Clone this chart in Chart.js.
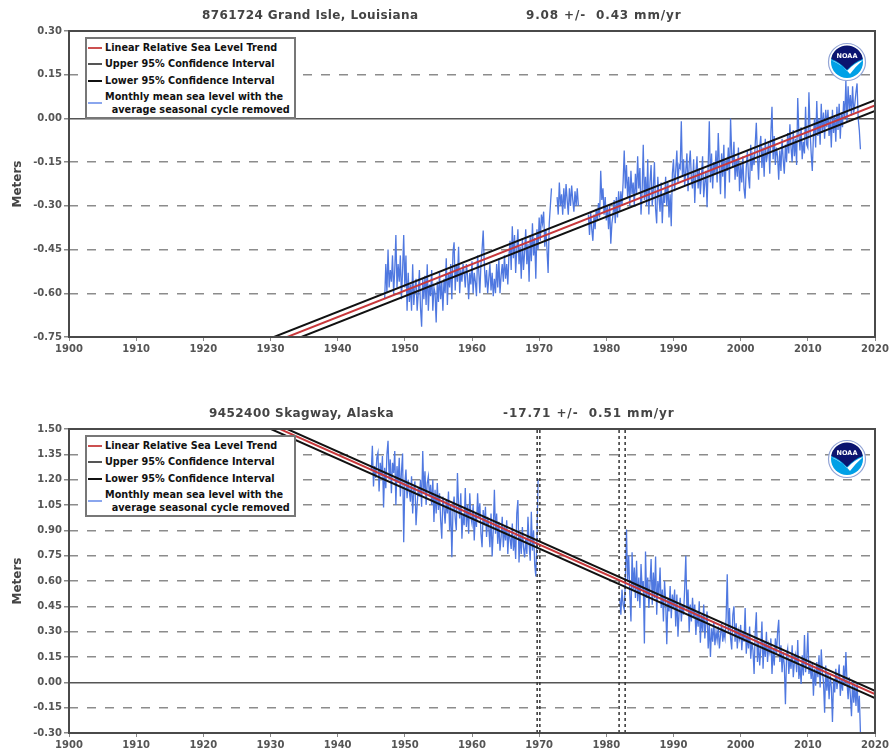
<!DOCTYPE html>
<html>
<head>
<meta charset="utf-8">
<title>Sea level trends</title>
<script src="https://cdn.jsdelivr.net/npm/chart.js@4"></script>
<style>
  html, body { margin: 0; padding: 0; background: #fff; }
  #page { position: relative; width: 889px; height: 755px; overflow: hidden; }
  canvas { position: absolute; left: 0; }
  .legend { position: absolute; left: 85px; width: 207px; height: 78px; border: 2px solid #777; background: #fff;
    font: bold 9.7px "DejaVu Sans", sans-serif; color: #111; }
  .legend div { position: absolute; left: 18px; white-space: pre; line-height: 13px; }
  .legend i { position: absolute; left: -17px; top: 6px; width: 14px; height: 2px; }
  .logo { position: absolute; left: 827px; width: 40px; height: 40px; }
</style>
</head>
<body>
<div id="page">
  <canvas id="chart-grand-isle" width="889" height="375" style="top:0"></canvas>
  <canvas id="chart-skagway" width="889" height="380" style="top:375px"></canvas>
</div>
<script>
// Axis ticks
const xTicks = [1900, 1910, 1920, 1930, 1940, 1950, 1960, 1970, 1980, 1990, 2000, 2010, 2020];
const yTicksGrandIsle = [-0.75, -0.60, -0.45, -0.30, -0.15, 0, 0.15, 0.30];
const yTicksSkagway = [-0.30, -0.15, 0, 0.15, 0.30, 0.45, 0.60, 0.75, 0.90, 1.05, 1.20, 1.35, 1.50];

// Trend end points at 1900 and 2020
const trendYears = [1900, 2020];
const grandIsleTrend = [-1.045, 0.045];
const grandIsleUpper = [-1.027, 0.063];
const grandIsleLower = [-1.064, 0.026];
const skagwayTrend = [2.056, -0.069];
const skagwayUpper = [2.075, -0.050];
const skagwayLower = [2.032, -0.093];

// Vertical dotted markers on the Skagway panel
const skagwayMarkers = [1969.7, 1970.1, 1981.9, 1982.8];

// Sea level, six readings a year
const grandIsleA = [ // from 1947
  -0.62,-0.50,-0.60,-0.45,-0.58,-0.52,
  -0.56,-0.47,-0.60,-0.52,-0.40,-0.58,
  -0.50,-0.56,-0.47,-0.62,-0.52,-0.40,
  -0.58,-0.47,-0.66,-0.53,-0.63,-0.57,
  -0.66,-0.50,-0.64,-0.58,-0.55,-0.66,
  -0.60,-0.52,-0.65,-0.715,-0.55,-0.62,
  -0.54,-0.64,-0.50,-0.66,-0.57,-0.61,
  -0.52,-0.66,-0.58,-0.60,-0.70,-0.56,
  -0.63,-0.53,-0.62,-0.56,-0.66,-0.55,
  -0.60,-0.48,-0.64,-0.53,-0.58,-0.50,
  -0.62,-0.46,-0.425,-0.59,-0.50,-0.56,
  -0.44,-0.60,-0.52,-0.56,-0.50,-0.53,
  -0.58,-0.50,-0.54,-0.62,-0.53,-0.57,
  -0.49,-0.60,-0.53,-0.56,-0.61,-0.47,
  -0.52,-0.60,-0.50,-0.45,-0.385,-0.50,
  -0.58,-0.52,-0.60,-0.55,-0.50,-0.59,
  -0.53,-0.61,-0.55,-0.60,-0.50,-0.58,
  -0.48,-0.60,-0.54,-0.50,-0.56,-0.47,
  -0.55,-0.50,-0.57,-0.47,-0.42,-0.52,
  -0.37,-0.48,-0.40,-0.53,-0.45,-0.38,
  -0.50,-0.44,-0.55,-0.41,-0.52,-0.46,
  -0.38,-0.50,-0.43,-0.56,-0.40,-0.49,
  -0.36,-0.47,-0.41,-0.55,-0.38,-0.45,
  -0.34,-0.42,-0.33,-0.36,-0.32,-0.44,
  -0.38,-0.45,-0.53,-0.36,-0.30,-0.24
];
const grandIsleB = [ // from 1972.67
  -0.27,-0.33,
  -0.22,-0.30,-0.26,-0.33,-0.24,-0.31,
  -0.225,-0.28,-0.33,-0.24,-0.30,-0.23,
  -0.28,-0.32,-0.25,-0.30,-0.24,-0.30
];
const grandIsleC = [ // from 1977.33
  -0.33,-0.40,-0.32,-0.38,
  -0.42,-0.33,-0.38,-0.31,-0.35,-0.29,
  -0.34,-0.18,-0.28,-0.24,-0.33,-0.27,
  -0.35,-0.30,-0.38,-0.30,-0.43,-0.36,
  -0.33,-0.28,-0.36,-0.27,-0.34,-0.25,
  -0.32,-0.25,-0.30,-0.22,-0.11,-0.24,
  -0.16,-0.27,-0.20,-0.30,-0.18,-0.26,
  -0.22,-0.30,-0.19,-0.26,-0.13,-0.24,
  -0.17,-0.33,-0.25,-0.09,-0.28,-0.20,
  -0.30,-0.14,-0.33,-0.22,-0.16,-0.30,
  -0.24,-0.15,-0.31,-0.36,-0.20,-0.27,
  -0.32,-0.22,-0.36,-0.26,-0.29,-0.20,
  -0.30,-0.22,-0.34,-0.26,-0.37,-0.19,
  -0.14,-0.25,-0.18,-0.11,-0.22,-0.16,
  -0.17,-0.01,-0.20,-0.14,-0.23,-0.18,
  -0.12,-0.25,-0.16,-0.11,-0.21,-0.24,
  -0.14,-0.29,-0.19,-0.13,-0.24,-0.17,
  -0.26,-0.20,-0.13,-0.27,-0.22,-0.18,
  -0.305,-0.16,-0.01,-0.22,-0.12,-0.24,
  -0.15,-0.19,-0.11,-0.22,-0.05,-0.16,
  -0.26,-0.12,-0.20,-0.09,-0.275,-0.14,
  -0.18,-0.10,-0.22,0.00,-0.12,-0.17,
  -0.08,-0.21,-0.14,-0.20,-0.10,-0.25,
  -0.16,-0.22,-0.13,-0.24,-0.275,-0.17,
  -0.11,-0.20,-0.24,-0.09,-0.18,-0.13,
  -0.16,-0.09,-0.015,-0.13,-0.21,-0.10,
  -0.06,-0.17,-0.10,-0.20,-0.07,-0.15,
  -0.12,-0.08,-0.19,-0.05,0.04,-0.14,
  -0.06,-0.16,-0.10,-0.13,-0.21,-0.11,
  -0.18,-0.07,-0.14,-0.19,-0.09,-0.15,
  -0.05,-0.12,-0.02,-0.10,-0.15,-0.04,
  -0.13,-0.07,-0.16,0.07,-0.05,-0.11,
  -0.03,-0.14,-0.08,-0.12,0.04,-0.09,
  -0.10,0.09,-0.04,-0.12,-0.18,-0.06,
  0.00,-0.10,0.06,-0.06,0.00,-0.09,
  0.05,-0.05,0.02,-0.07,0.03,-0.03,
  0.03,-0.06,0.00,-0.10,0.03,-0.05,
  0.01,-0.08,0.04,-0.04,0.05,-0.07,
  0.02,-0.03,0.06,0.00,0.13,-0.01,
  0.11,0.03,0.08,0.01,0.11,0.02,
  0.05,0.09,0.12,0.00,-0.04,-0.106
];
const skagwayA = [ // from 1945
  1.25,1.40,1.16,1.28,1.21,1.33,
  1.36,1.13,1.30,1.22,1.34,1.035,
  1.27,1.15,1.35,1.43,1.20,1.32,
  1.12,1.30,1.24,1.37,1.05,1.28,
  1.18,1.33,1.10,1.25,1.355,0.83,
  1.18,1.26,1.09,1.20,1.13,1.07,
  1.22,1.00,1.14,1.19,0.93,1.05,
  1.15,1.10,1.20,1.04,1.37,1.12,
  1.25,1.05,1.18,1.22,1.10,1.17,
  1.05,1.20,0.95,1.14,1.00,1.18,
  1.02,1.12,0.96,0.85,1.10,1.03,
  0.94,1.08,1.00,1.13,0.90,1.05,
  0.74,1.02,1.10,0.97,0.90,1.24,
  1.05,0.97,1.12,0.85,1.00,0.93,
  1.15,0.92,1.05,0.88,1.12,0.98,
  0.94,1.05,0.84,1.00,0.92,1.12,
  0.97,1.06,0.88,0.80,1.02,0.93,
  1.04,0.86,0.98,0.92,0.80,1.00,
  0.745,0.90,1.14,0.88,1.00,0.82,
  0.95,0.78,0.86,0.98,0.80,0.92,
  0.84,0.96,0.76,0.90,0.85,0.79,
  0.94,0.78,0.87,0.73,1.00,1.08,
  0.71,0.88,0.76,0.92,0.80,0.74,
  0.85,0.76,0.98,0.82,0.72,1.01,
  0.78,0.90,0.70,0.627,0.85,1.20
];
const skagwayB = [ // from 1982
  0.50,0.40,0.55,0.46,0.43,0.60,
  0.905,0.60,0.75,0.52,0.36,0.77,
  0.55,0.68,0.50,0.72,0.48,0.62,
  0.44,0.70,0.55,0.60,0.23,0.775,
  0.50,0.62,0.44,0.58,0.73,0.46,
  0.65,0.50,0.745,0.40,0.60,0.52,
  0.68,0.44,0.55,0.36,0.60,0.48,
  0.225,0.50,0.42,0.57,0.38,0.52,
  0.44,0.55,0.33,0.52,0.27,0.42,
  0.50,0.36,0.46,0.40,0.56,0.75,
  0.42,0.55,0.30,0.46,0.36,0.50,
  0.38,0.46,0.28,0.42,0.33,0.48,
  0.235,0.40,0.30,0.46,0.26,0.36,
  0.42,0.20,0.35,0.15,0.32,0.24,
  0.36,0.22,0.30,0.25,0.33,0.20,
  0.28,0.35,0.24,0.30,0.26,0.38,
  0.64,0.30,0.44,0.26,0.195,0.40,
  0.45,0.24,0.35,0.20,0.30,0.26,
  0.34,0.19,0.30,0.24,0.44,0.17,
  0.28,0.20,0.33,0.14,0.24,0.19,
  0.05,0.30,0.415,0.12,0.24,0.10,
  0.20,0.36,0.08,0.24,0.15,0.30,
  0.12,0.22,0.18,0.26,0.05,0.20,
  0.10,0.26,0.17,0.30,0.37,0.12,
  0.22,0.06,0.18,0.10,-0.13,0.16,
  0.20,0.05,0.14,0.08,0.22,0.03,
  0.12,0.16,0.06,0.25,0.02,0.10,
  -0.01,0.16,0.04,0.28,0.06,0.14,
  0.295,0.05,0.10,0.02,0.12,-0.08,
  0.08,-0.02,0.12,0.03,0.16,-0.03,
  0.195,0.06,0.00,-0.18,0.10,-0.05,
  0.05,-0.10,0.04,-0.03,-0.235,0.02,
  -0.06,0.08,-0.04,0.03,0.105,-0.08,
  0.02,-0.05,0.10,-0.02,0.18,0.00,
  -0.10,0.03,-0.08,-0.20,0.01,-0.12,
  -0.02,-0.14,0.00,-0.18,-0.08,-0.30
];

// Legend text
const legendLabels = [
  'Linear Relative Sea Level Trend',
  'Upper 95% Confidence Interval',
  'Lower 95% Confidence Interval',
  'Monthly mean sea level with the\n  average seasonal cycle removed'
];

const chartColors = {
  trend: '#c8373a',
  bound: '#111111',
  sea: '#4f78e0',
  grid: '#8c8c8c',
  zero: '#555555',
  frame: '#4a4a4a',
  text: '#555555',
  marker: '#333333'
};

// Turns a reading list into x/y points, one step is 1/6 year
function toPoints(start, values) {
  return values.map(function(v, i) {
    return { x: start + i / 6, y: v };
  });
}

function withGaps(parts) {
  const out = [];
  parts.forEach(function(part, i) {
    if (i > 0) out.push({ x: part[0] - 0.01, y: null });
    out.push.apply(out, toPoints(part[0], part[1]));
  });
  return out;
}

function line(label, points, color, width, dash) {
  return {
    label: label,
    data: points,
    borderColor: color,
    borderWidth: width,
    borderDash: dash || [],
    pointRadius: 0,
    tension: 0,
    spanGaps: false
  };
}

function trendSet(label, values, color) {
  return line(label, trendYears.map(function(y, i) { return { x: y, y: values[i] }; }), color, 2);
}

// Station title, plot frame
const panelDecor = {
  id: 'panelDecor',
  afterDatasetsDraw: function(chart, args, opts) {
    const ctx = chart.ctx;
    const a = chart.chartArea;
    ctx.save();
    ctx.strokeStyle = chartColors.frame;
    ctx.lineWidth = 2;
    ctx.strokeRect(a.left, a.top, a.right - a.left, a.bottom - a.top);
    ctx.fillStyle = '#444444';
    ctx.font = 'bold 12px "DejaVu Sans", sans-serif';
    ctx.textBaseline = 'middle';
    opts.titles.forEach(function(t) {
      ctx.letterSpacing = t.spacing;
      ctx.fillText(t.text, t.x, opts.titleY);
    });
    ctx.restore();
  }
};

function makePanel(canvasId, cfg) {
  const ctx = document.getElementById(canvasId);
  const datasets = [
    trendSet('Linear Relative Sea Level Trend', cfg.trend, chartColors.trend),
    trendSet('Upper 95% Confidence Interval', cfg.upper, chartColors.bound),
    trendSet('Lower 95% Confidence Interval', cfg.lower, chartColors.bound)
  ];
  (cfg.markers || []).forEach(function(m) {
    datasets.push(line('marker', [{ x: m, y: cfg.yTicks[0] }, { x: m, y: cfg.yTicks[cfg.yTicks.length - 1] }],
      chartColors.marker, 1.5, [3, 3]));
  });
  datasets.push(line('Monthly mean sea level', cfg.sea, chartColors.sea, 1.3));

  return new Chart(ctx, {
    type: 'line',
    data: { datasets: datasets },
    plugins: [panelDecor],
    options: {
      responsive: false,
      animation: false,
      layout: { padding: { top: cfg.top, right: 14, left: 0, bottom: 0 } },
      plugins: {
        legend: { display: false },
        tooltip: { enabled: false },
        panelDecor: { titles: cfg.titles, titleY: cfg.titleY }
      },
      scales: {
        x: {
          type: 'linear',
          min: xTicks[0],
          max: xTicks[xTicks.length - 1],
          afterBuildTicks: function(axis) {
            axis.ticks = xTicks.map(function(v) { return { value: v }; });
          },
          afterFit: function(axis) {
            axis.height = cfg.xHeight;
            axis.paddingLeft = 0;
            axis.paddingRight = 0;
          },
          grid: { display: true, drawOnChartArea: false, tickLength: 4, tickColor: '#888888' },
          border: { display: false },
          ticks: {
            autoSkip: false,
            maxRotation: 0,
            padding: 2,
            color: chartColors.text,
            font: { family: '"DejaVu Sans", sans-serif', weight: 'bold', size: 10 },
            callback: function(v) { return String(v); }
          }
        },
        y: {
          min: cfg.yTicks[0],
          max: cfg.yTicks[cfg.yTicks.length - 1],
          afterBuildTicks: function(axis) {
            axis.ticks = cfg.yTicks.map(function(v) { return { value: v }; });
          },
          afterFit: function(axis) { axis.width = 69; },
          title: {
            display: true,
            text: 'Meters',
            color: '#444444',
            padding: { top: 11, bottom: 0 },
            font: { family: '"DejaVu Sans", sans-serif', weight: 'bold', size: 12 }
          },
          grid: {
            tickLength: 5,
            color: function(c) { return c.tick && c.tick.value === 0 ? chartColors.zero : chartColors.grid; },
            lineWidth: 1.5,
            tickColor: '#888888'
          },
          border: {
            display: false,
            dash: function(c) { return c.tick && c.tick.value === 0 ? [] : [9, 9]; }
          },
          ticks: {
            autoSkip: false,
            padding: 2,
            color: chartColors.text,
            font: { family: '"DejaVu Sans", sans-serif', weight: 'bold', size: 10 },
            callback: function(v) { return v.toFixed(2); }
          }
        }
      }
    }
  });
}

// Legend box drawn over the chart
function addLegend(top) {
  const box = document.createElement('div');
  box.className = 'legend';
  box.style.top = top + 'px';
  const rowTops = [2, 18, 35, 51];
  const swatches = ['#cc5050', '#555555', chartColors.bound, '#8aa6ee'];
  legendLabels.forEach(function(text, i) {
    const row = document.createElement('div');
    row.style.top = rowTops[i] + 'px';
    row.textContent = text;
    const sw = document.createElement('i');
    sw.style.background = swatches[i];
    if (i === 3) sw.style.top = '12px';
    row.appendChild(sw);
    box.appendChild(row);
  });
  document.getElementById('page').appendChild(box);
}

// NOAA mark
function addLogo(top) {
  const holder = document.createElement('div');
  holder.className = 'logo';
  holder.style.top = top + 'px';
  holder.innerHTML =
    '<svg width="40" height="40" viewBox="0 0 40 40">' +
    '<circle cx="20" cy="20" r="18.5" fill="#fff" stroke="#93a5d6" stroke-width="1.2"/>' +
    '<circle cx="20" cy="20" r="16" fill="#00a0e6"/>' +
    '<path d="M4.2 17 A16 16 0 0 1 35.8 17 Q27 20 20 28 Q13 20 4.2 17 Z" fill="#0b1470"/>' +
    '<path d="M4 18 Q13 21 20 29 Q27 21 36 18 Q28 25 23 32 Q17 24 4 18 Z" fill="#fff"/>' +
    '<text x="20" y="15.5" text-anchor="middle" font-family="DejaVu Sans" font-weight="bold" font-size="6.5" fill="#fff">NOAA</text>' +
    '</svg>';
  document.getElementById('page').appendChild(holder);
}

makePanel('chart-grand-isle', {
  top: 31,
  xHeight: 38,
  titleY: 15.5,
  titles: [
    { text: '8761724 Grand Isle, Louisiana', x: 202, spacing: '0.4px' },
    { text: '9.08 +/-  0.43 mm/yr', x: 526, spacing: '0.85px' }
  ],
  yTicks: yTicksGrandIsle,
  trend: grandIsleTrend,
  upper: grandIsleUpper,
  lower: grandIsleLower,
  sea: withGaps([[1947, grandIsleA], [1972.67, grandIsleB], [1977.33, grandIsleC]])
});

makePanel('chart-skagway', {
  top: 54,
  xHeight: 22,
  titleY: 39,
  titles: [
    { text: '9452400 Skagway, Alaska', x: 209, spacing: '0.43px' },
    { text: '-17.71 +/-  0.51 mm/yr', x: 503, spacing: '0.9px' }
  ],
  yTicks: yTicksSkagway,
  trend: skagwayTrend,
  upper: skagwayUpper,
  lower: skagwayLower,
  markers: skagwayMarkers,
  sea: withGaps([[1945, skagwayA], [1982, skagwayB]])
});

addLegend(37);
addLegend(435);
addLogo(42);
addLogo(439);
</script>
</body>
</html>
